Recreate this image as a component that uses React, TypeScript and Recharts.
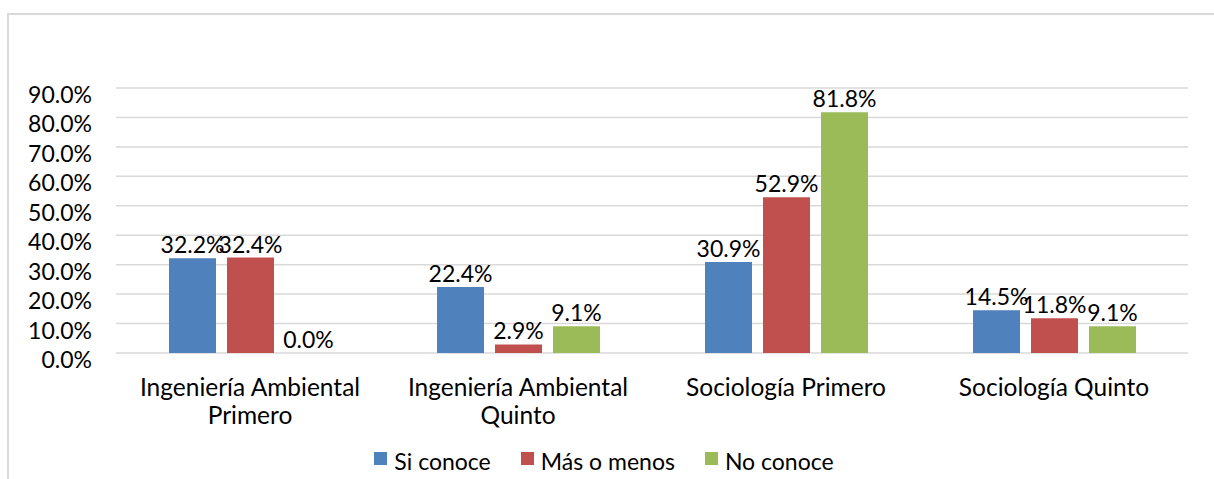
import React from 'react';
import { BarChart, Bar, XAxis, YAxis, CartesianGrid, Legend, LabelList } from 'recharts';

const categories = [
  'Ingeniería Ambiental Primero',
  'Ingeniería Ambiental Quinto',
  'Sociología Primero',
  'Sociología Quinto',
];
const siConoce = [32.2, 22.4, 30.9, 14.5];
const masOMenos = [32.4, 2.9, 52.9, 11.8];
const noConoce = [0.0, 9.1, 81.8, 9.1];
const yTicks = [0, 10, 20, 30, 40, 50, 60, 70, 80, 90];

const SERIES = [
  { key: 'si', name: 'Si conoce', color: '#4F81BD' },
  { key: 'mas', name: 'Más o menos', color: '#C0504D' },
  { key: 'no', name: 'No conoce', color: '#9BBB59' },
];

const FONT = 'Lato, "Open Sans", sans-serif';
const FS = 23;

const data = categories.map((c, i) => ({
  name: c,
  si: siConoce[i],
  mas: masOMenos[i],
  no: noConoce[i],
}));

const pct = (v: number) => `${Number(v).toFixed(1)}%`;

// greedy word wrap, roughly like the original chart's label box
const wrap = (text: string, max = 22) => {
  const lines: string[] = [];
  let cur = '';
  text.split(' ').forEach(w => {
    const next = cur ? `${cur} ${w}` : w;
    if (next.length > max && cur) {
      lines.push(cur);
      cur = w;
    } else {
      cur = next;
    }
  });
  if (cur) lines.push(cur);
  return lines;
};

const CategoryTick = ({ x, y, payload }: any) => {
  const lines = wrap(payload.value);
  return (
    <text x={x} y={y + 35} textAnchor="middle" fill="#000" fontSize={24.5} fontFamily={FONT}>
      {lines.map((l, i) => (
        <tspan key={i} x={x} dy={i === 0 ? 0 : 28}>{l}</tspan>
      ))}
    </text>
  );
};

const ValueTick = ({ y, payload }: any) => (
  <text x={92} y={y + 15} textAnchor="end" fill="#000" fontSize={FS} fontFamily={FONT}>
    {pct(payload.value)}
  </text>
);

const BarValue = (props: any) => {
  const { x, y, width, value } = props;
  if (value == null) return null;
  return (
    <text x={x + width / 2} y={y - 5} textAnchor="middle" fill="#000" fontSize={FS} fontFamily={FONT}>
      {pct(value)}
    </text>
  );
};

const LegendContent = () => (
  <div style={{ display: 'flex', justifyContent: 'center', height: 36, fontFamily: FONT, fontSize: FS, color: '#000', paddingLeft: 50 }}>
    {SERIES.map(s => (
      <div key={s.key} style={{ display: 'flex', alignItems: 'flex-start', marginRight: 30 }}>
        <span style={{ width: 13, height: 13, background: s.color, marginTop: 9, marginRight: 7, display: 'inline-block' }} />
        <span style={{ lineHeight: '36px' }}>{s.name}</span>
      </div>
    ))}
  </div>
);

export default function App() {
  return (
    <div style={{ position: 'absolute', left: 0, top: 0, width: 1214, height: 479, overflow: 'hidden', background: '#fff' }}>
      <div style={{ position: 'absolute', left: 7, top: 13, width: 1230, height: 500, border: '2px solid #d9d9d9' }} />
      <div style={{ position: 'absolute', left: 0, top: 0 }}>
        <BarChart
          width={1214}
          height={479}
          data={data}
          margin={{ top: 88, right: 26, bottom: 0, left: 0 }}
          barSize={47}
          barGap={11}
        >
          <CartesianGrid vertical={false} stroke="#d9d9d9" strokeWidth={1.5} />
          <XAxis dataKey="name" axisLine={false} tickLine={false} height={90} tick={<CategoryTick />} interval={0} />
          <YAxis width={116} domain={[0, 90]} ticks={yTicks} axisLine={false} tickLine={false} tick={<ValueTick />} />
          <Legend verticalAlign="bottom" content={<LegendContent />} />
          {SERIES.map(s => (
            <Bar key={s.key} dataKey={s.key} name={s.name} fill={s.color} minPointSize={0.01} isAnimationActive={false}>
              <LabelList dataKey={s.key} content={<BarValue />} />
            </Bar>
          ))}
        </BarChart>
      </div>
    </div>
  );
}
